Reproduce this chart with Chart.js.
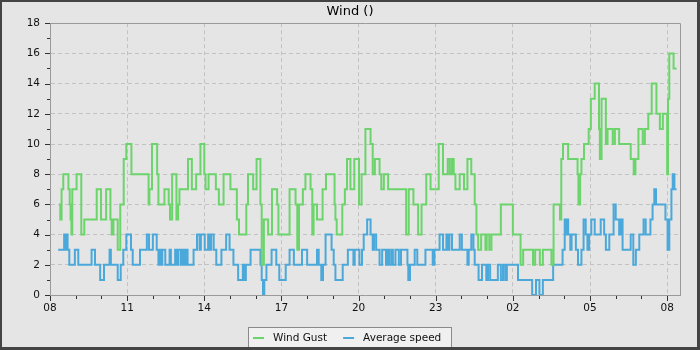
<!DOCTYPE html>
<html>
<head>
<meta charset="utf-8">
<title>Wind</title>
<script src="https://cdn.jsdelivr.net/npm/chart.js@4"></script>
<style>
  html, body { margin: 0; padding: 0; background: #e5e5e5; }
  canvas { display: block; }
</style>
</head>
<body>
<canvas id="wind" width="700" height="350"></canvas>
<script>
// Time axis runs from 08:00 to about 08:30 the next morning; times are minutes after 08:00.
const xTickLabels = ['08', '11', '14', '17', '20', '23', '02', '05', '08'];
const xTickMinutes = [0, 180, 360, 540, 720, 900, 1080, 1260, 1440];
const yTickValues = [0, 2, 4, 6, 8, 10, 12, 14, 16, 18];

// Wind gust: minute at which each new reading starts, and its value
const gustMinutes = [
  21, 24, 27, 31, 43, 46, 48, 50, 52, 62, 73, 80, 109, 119, 131, 141, 144, 148, 158, 164,
  172, 178, 190, 230, 232, 238, 250, 253, 267, 277, 280, 285, 295, 299, 302, 322, 331, 341, 351, 360,
  363, 370, 387, 394, 405, 421, 436, 441, 458, 462, 474, 482, 491, 494, 499, 509, 518, 530, 533, 559,
  573, 577, 581, 590, 596, 608, 612, 615, 623, 636, 644, 664, 666, 669, 682, 688, 693, 701, 710, 721,
  727, 736, 748, 753, 758, 769, 773, 779, 789, 831, 837, 848, 859, 867, 878, 888, 907, 917, 928, 933,
  938, 942, 946, 956, 966, 974, 983, 991, 995, 999, 1006, 1016, 1019, 1025, 1030, 1052, 1080, 1098, 1104, 1127,
  1132, 1143, 1150, 1170, 1175, 1190, 1193, 1197, 1209, 1231, 1233, 1237, 1240, 1246, 1257, 1262, 1271, 1281, 1283, 1287,
  1297, 1301, 1313, 1318, 1328, 1355, 1362, 1366, 1373, 1383, 1388, 1396, 1404, 1415, 1423, 1430, 1440, 1442, 1445, 1455,
  1462
];
const gustValues = [
  6, 5, 7, 8, 7, 6, 5, 4, 7, 8, 4, 5, 7, 5, 7, 5, 4, 5, 3, 6,
  9, 10, 8, 6, 7, 10, 8, 6, 7, 6, 5, 8, 5, 6, 7, 9, 7, 8, 10, 8,
  7, 8, 7, 6, 8, 7, 5, 4, 6, 8, 7, 9, 6, 2, 5, 4, 7, 6, 4, 7,
  6, 3, 6, 7, 8, 7, 4, 6, 5, 7, 8, 6, 5, 4, 6, 7, 9, 7, 9, 6,
  8, 11, 10, 8, 9, 8, 7, 8, 7, 4, 7, 6, 4, 6, 8, 7, 10, 8, 9, 8,
  9, 8, 7, 8, 7, 9, 8, 6, 4, 3, 4, 3, 4, 3, 4, 6, 4, 2, 3, 2,
  3, 2, 3, 2, 6, 5, 9, 10, 9, 8, 6, 8, 9, 10, 11, 13, 14, 11, 9, 13,
  10, 11, 10, 11, 10, 9, 8, 9, 11, 10, 11, 12, 14, 12, 11, 12, 8, 13, 16, 15,
  15
];

// Average speed: minute at which each new reading starts, and its value
const avgMinutes = [
  19, 33, 35, 37, 41, 45, 58, 66, 97, 105, 117, 126, 139, 142, 158, 165, 171, 178, 189, 193,
  210, 226, 231, 240, 249, 253, 256, 259, 262, 269, 279, 282, 292, 296, 299, 305, 309, 313, 317, 321,
  335, 343, 349, 352, 361, 369, 373, 376, 382, 388, 400, 411, 419, 428, 439, 450, 454, 457, 468, 491,
  494, 497, 500, 505, 517, 528, 535, 550, 559, 569, 588, 600, 623, 627, 633, 637, 643, 657, 662, 666,
  683, 695, 708, 711, 722, 728, 732, 740, 748, 753, 756, 761, 769, 775, 784, 788, 792, 797, 800, 806,
  814, 819, 834, 836, 840, 851, 857, 876, 893, 897, 909, 917, 925, 928, 932, 938, 956, 961, 974, 977,
  983, 988, 991, 1000, 1008, 1018, 1022, 1027, 1045, 1052, 1057, 1062, 1066, 1092, 1125, 1134, 1142, 1150, 1174, 1196,
  1201, 1204, 1206, 1209, 1214, 1217, 1227, 1232, 1240, 1245, 1250, 1254, 1258, 1263, 1271, 1285, 1293, 1297, 1305, 1315,
  1320, 1328, 1332, 1336, 1355, 1361, 1367, 1375, 1385, 1390, 1401, 1406, 1410, 1414, 1436, 1441, 1445, 1450, 1453, 1457,
  1462
];
const avgValues = [
  3, 4, 3, 4, 3, 2, 3, 2, 3, 2, 1, 2, 3, 2, 1, 2, 3, 4, 3, 2,
  3, 4, 3, 4, 3, 2, 3, 2, 3, 2, 3, 2, 3, 2, 3, 2, 3, 2, 3, 2,
  3, 4, 3, 4, 3, 4, 3, 4, 3, 2, 3, 4, 3, 2, 1, 2, 1, 2, 3, 2,
  1, 0, 1, 2, 3, 2, 1, 2, 3, 2, 3, 2, 3, 2, 1, 2, 4, 3, 2, 1,
  2, 3, 2, 3, 2, 3, 4, 5, 4, 3, 4, 3, 2, 3, 2, 3, 2, 3, 2, 3,
  2, 3, 2, 1, 2, 3, 2, 3, 2, 3, 4, 3, 4, 3, 4, 3, 4, 3, 2, 3,
  4, 3, 2, 1, 2, 1, 2, 1, 2, 1, 2, 1, 2, 1, 0, 1, 0, 1, 2, 3,
  5, 4, 5, 4, 3, 4, 3, 2, 3, 5, 4, 3, 4, 5, 4, 5, 4, 3, 4, 6,
  5, 4, 5, 3, 4, 2, 3, 4, 5, 4, 5, 6, 7, 6, 5, 3, 5, 7, 8, 7,
  7
];

const GUST_COLOR = '#6bd46b';
const AVG_COLOR = '#4ba8da';
const FONT = '"DejaVu Sans", "Liberation Sans", sans-serif';
const TICK_FONT_SIZE = 10.5;

const toPoints = (mins, vals) => mins.map((m, i) => ({ x: m, y: vals[i] }));

// Tick marks (major + minor), plot frame, legend box and outer border
const chartDecor = {
  id: 'chartDecor',
  beforeDraw(chart) {
    const ctx = chart.ctx;
    ctx.save();
    ctx.fillStyle = '#e5e5e5';
    ctx.fillRect(0, 0, chart.width, chart.height);
    ctx.restore();
  },
  afterDraw(chart) {
    const { ctx, chartArea: a, scales } = chart;
    const xs = scales.x, ys = scales.y;
    ctx.save();

    // frame on top and right of the plot
    ctx.strokeStyle = '#9a9a9a';
    ctx.lineWidth = 1;
    ctx.beginPath();
    ctx.moveTo(Math.round(a.left) + 0.5, Math.round(a.top) + 0.5);
    ctx.lineTo(Math.round(a.right) + 0.5, Math.round(a.top) + 0.5);
    ctx.lineTo(Math.round(a.right) + 0.5, Math.round(a.bottom) + 0.5);
    ctx.stroke();

    // tick marks: every hour on x, every unit on y
    ctx.strokeStyle = '#333';
    ctx.beginPath();
    for (let m = 0; m <= xs.max; m += 60) {
      const px = Math.round(xs.getPixelForValue(m)) + 0.5;
      const len = (m % 180 === 0) ? 5 : 3;
      ctx.moveTo(px, Math.round(a.bottom) + 1);
      ctx.lineTo(px, Math.round(a.bottom) + 1 + len);
    }
    for (let v = ys.min; v <= ys.max; v += 1) {
      const py = Math.round(ys.getPixelForValue(v)) + 0.5;
      const len = (v % 2 === 0) ? 5 : 3;
      ctx.moveTo(Math.round(a.left), py);
      ctx.lineTo(Math.round(a.left) - len, py);
    }
    ctx.stroke();

    // legend
    const ds = chart.data.datasets;
    ctx.font = TICK_FONT_SIZE + 'px ' + FONT;
    const widths = ds.map(d => ctx.measureText(d.label).width);
    const mark = 11, gap = 9, between = 16, padL = 5, padR = 10;
    const total = padL + padR + ds.length * (mark + gap) + widths.reduce((s, w) => s + w, 0) + between * (ds.length - 1);
    const bx = Math.round((chart.width - total) / 2);
    const by = 327, bh = 21;
    ctx.fillStyle = '#f0f0f0';
    ctx.fillRect(bx, by, Math.round(total), bh);
    ctx.strokeStyle = '#8a8a8a';
    ctx.strokeRect(bx + 0.5, by + 0.5, Math.round(total), bh);
    let cx = bx + padL;
    ds.forEach((d, i) => {
      ctx.fillStyle = d.borderColor;
      ctx.fillRect(cx, 337, mark, 2);
      cx += mark + gap;
      ctx.fillStyle = '#111';
      ctx.textBaseline = 'alphabetic';
      ctx.textAlign = 'left';
      ctx.fillText(d.label, cx, 341);
      cx += widths[i] + between;
    });

    // outer border
    ctx.fillStyle = '#444';
    ctx.fillRect(0, 0, chart.width, 2);
    ctx.fillRect(0, 0, 2, chart.height);
    ctx.fillRect(chart.width - 3, 0, 3, chart.height);
    ctx.fillRect(0, chart.height - 3, chart.width, 3);
    ctx.restore();
  }
};

new Chart(document.getElementById('wind'), {
  type: 'line',
  data: {
    datasets: [
      {
        label: 'Wind Gust',
        data: toPoints(gustMinutes, gustValues),
        borderColor: GUST_COLOR,
        backgroundColor: GUST_COLOR,
        borderWidth: 2,
        stepped: true,
        pointRadius: 0,
        fill: false
      },
      {
        label: 'Average speed',
        data: toPoints(avgMinutes, avgValues),
        borderColor: AVG_COLOR,
        backgroundColor: AVG_COLOR,
        borderWidth: 2,
        stepped: true,
        pointRadius: 0,
        fill: false
      }
    ]
  },
  options: {
    responsive: false,
    animation: false,
    devicePixelRatio: 1,
    layout: { padding: 0 },
    plugins: {
      legend: { display: false },
      tooltip: { enabled: false },
      title: {
        display: true,
        text: 'Wind ()',
        color: '#000',
        font: { family: FONT, size: 13, weight: 'normal' },
        padding: { top: 4, bottom: 3.6 }
      }
    },
    scales: {
      x: {
        type: 'linear',
        bounds: 'data',
        min: 0,
        max: 1470,
        afterFit(scale) { scale.height = 55; },
        afterBuildTicks(scale) { scale.ticks = xTickMinutes.map(v => ({ value: v })); },
        ticks: {
          autoSkip: false,
          maxRotation: 0,
          padding: 7,
          color: '#111',
          font: { family: FONT, size: TICK_FONT_SIZE },
          callback: (v) => xTickLabels[xTickMinutes.indexOf(v)] ?? ''
        },
        grid: { color: '#c2c2c2', lineWidth: 1, drawTicks: false },
        border: { color: '#9a9a9a', width: 1, dash: [4, 3] }
      },
      y: {
        position: 'left',
        min: yTickValues[0],
        max: yTickValues[yTickValues.length - 1],
        afterFit(scale) { scale.width = 50; },
        afterBuildTicks(scale) { scale.ticks = yTickValues.map(v => ({ value: v })); },
        ticks: {
          padding: 10,
          color: '#111',
          font: { family: FONT, size: TICK_FONT_SIZE }
        },
        grid: { color: '#c2c2c2', lineWidth: 1, drawTicks: false },
        border: { color: '#9a9a9a', width: 1, dash: [4, 3] }
      },
      // empty margin on the right of the plot
      yMargin: {
        position: 'right',
        display: true,
        afterFit(scale) { scale.width = 20; },
        ticks: { display: false },
        grid: { display: false, drawTicks: false },
        border: { display: false }
      }
    }
  },
  plugins: [chartDecor]
});
</script>
</body>
</html>
